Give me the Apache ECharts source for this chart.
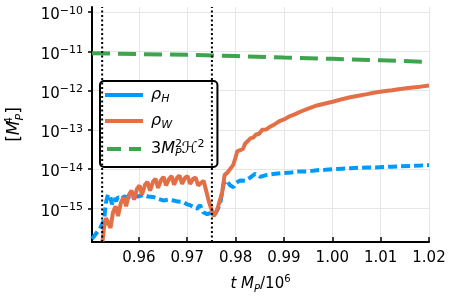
<!DOCTYPE html>
<html>
<head>
<meta charset="utf-8">
<script src="https://cdn.jsdelivr.net/npm/echarts@6/dist/echarts.min.js"></script>
<style>html,body{margin:0;padding:0;background:#fff}#c{width:450px;height:300px}</style>
</head>
<body>
<div id="c"></div>
<script>
// x values in units of t*M_P/1e6 ; y values as log10 of energy density
const xTicks = [0.96, 0.97, 0.98, 0.99, 1.00, 1.01, 1.02];
const yTickExp = [-15, -14, -13, -12, -11, -10];
const vLines = [0.9524, 0.9751];
const yRangeExp = [-15.86, -9.87];

const tH = [0.95030,0.95092,0.95154,0.95196,0.95237,0.95278,0.95320,0.95361,0.95403,0.95444,0.95485,0.95527,0.95568,0.95630,0.95693,0.95775,0.95879,0.95982,0.96086,0.96189,0.96293,0.96396,0.96500,0.96603,0.96707,0.96810,0.96914,0.96997,0.97059,0.97142,0.97204,0.97266,0.97328,0.97411,0.97494,0.97577,0.97639,0.97680,0.97722,0.97753,0.97819,0.97887,0.97955,0.98011,0.98094,0.98198,0.98301,0.98405,0.98508,0.98647,0.98819,0.98991,0.99150,0.99336,0.99502,0.99682,0.99854,1.00026,1.00200,1.00372,1.00537,1.00717,1.00889,1.01061,1.01235,1.01407,1.01614,1.01821,1.02000];
const logH = [-15.78,-15.68,-15.58,-15.52,-15.55,-15.30,-14.85,-14.65,-14.70,-14.90,-14.75,-14.82,-14.72,-14.76,-14.70,-14.72,-14.67,-14.70,-14.66,-14.70,-14.71,-14.76,-14.80,-14.78,-14.80,-14.83,-14.84,-14.90,-14.92,-14.98,-15.01,-14.92,-15.10,-15.15,-15.12,-15.15,-15.00,-14.88,-14.60,-14.37,-14.29,-14.42,-14.46,-14.35,-14.29,-14.30,-14.22,-14.12,-14.20,-14.15,-14.12,-14.10,-14.09,-14.06,-14.06,-14.03,-14.02,-14.00,-13.99,-13.98,-13.97,-13.96,-13.96,-13.95,-13.94,-13.93,-13.92,-13.91,-13.90];

const tW = [0.95247,0.95278,0.95320,0.95361,0.95413,0.95465,0.95517,0.95568,0.95630,0.95682,0.95734,0.95796,0.95848,0.95900,0.95962,0.96013,0.96065,0.96127,0.96179,0.96231,0.96293,0.96345,0.96397,0.96459,0.96510,0.96562,0.96624,0.96676,0.96728,0.96790,0.96842,0.96893,0.96955,0.97007,0.97059,0.97121,0.97173,0.97225,0.97287,0.97338,0.97390,0.97452,0.97494,0.97546,0.97597,0.97639,0.97680,0.97722,0.97773,0.97825,0.97887,0.97949,0.98001,0.98032,0.98094,0.98156,0.98198,0.98260,0.98301,0.98363,0.98425,0.98488,0.98550,0.98632,0.98715,0.98819,0.98922,0.99026,0.99129,0.99233,0.99336,0.99502,0.99682,0.99854,1.00026,1.00200,1.00372,1.00537,1.00717,1.00889,1.01061,1.01235,1.01407,1.01614,1.01821,1.02000];
const logW = [-15.85,-15.50,-15.25,-15.30,-15.50,-15.10,-14.95,-15.20,-14.85,-14.72,-14.95,-14.65,-14.55,-14.78,-14.50,-14.42,-14.65,-14.40,-14.33,-14.55,-14.32,-14.25,-14.48,-14.28,-14.20,-14.42,-14.25,-14.18,-14.40,-14.22,-14.17,-14.38,-14.22,-14.18,-14.38,-14.25,-14.22,-14.42,-14.35,-14.30,-14.55,-14.85,-15.00,-15.20,-15.10,-14.95,-14.95,-14.60,-14.15,-14.10,-14.00,-13.90,-13.70,-13.55,-13.52,-13.48,-13.35,-13.28,-13.22,-13.20,-13.12,-13.10,-13.00,-12.99,-12.92,-12.85,-12.77,-12.72,-12.65,-12.60,-12.54,-12.46,-12.38,-12.33,-12.28,-12.22,-12.17,-12.13,-12.09,-12.05,-12.02,-11.99,-11.96,-11.93,-11.90,-11.87];

const tG = [0.9503, 0.96, 0.97, 0.98, 0.99, 1.00, 1.01, 1.02];
const logG = [-11.05, -11.07, -11.09, -11.12, -11.16, -11.19, -11.23, -11.27];

const FONT = 'DejaVu Sans';
const pair = (ts, ls) => ts.map((t, i) => [t, Math.pow(10, ls[i])]);

const vSeries = vLines.map((v, k) => ({
  name: 'v' + k, type: 'line', symbol: 'none', z: 5, silent: true,
  data: [[v, Math.pow(10, yRangeExp[0])], [v, Math.pow(10, yRangeExp[1])]],
  lineStyle: {color: '#000', width: 2, type: [2, 2.5]}
}));

const chart = echarts.init(document.getElementById('c'), null, {renderer: 'canvas'});
chart.setOption({
  animation: false,
  backgroundColor: '#fff',
  grid: {left: 92, right: 21, top: 7, bottom: 58, containLabel: false, outerBoundsMode: 'none'},
  legend: {
    orient: 'vertical', left: 100, top: 81,
    padding: [6, 13, 8, 5], itemGap: 8, itemWidth: 38, itemHeight: 4,
    borderColor: '#000', borderWidth: 2, borderRadius: 4, backgroundColor: '#fff',
    data: [
      {name: 'rhoH', icon: 'path://M0,0H38V4H0Z'},
      {name: 'rhoW', icon: 'path://M0,0H38V4H0Z'},
      {name: 'H2', icon: 'path://M0,0H14V4H0Z M22,0H34V4H22Z'}
    ],
    formatter: function (n) {
      if (n === 'rhoH') return '{i|ρ}{sub|H}';
      if (n === 'rhoW') return '{i|ρ}{sub|W}';
      return '{r|3}{i|M}{supz|2}{sub|P}{i|ℋ}{sup|2}';
    },
    textStyle: {
      fontFamily: FONT, color: '#000', padding: [0, 0, 0, 3],
      rich: {
        i: {fontFamily: FONT, fontStyle: 'italic', fontSize: 16, lineHeight: 20, verticalAlign: 'middle', color: '#000'},
        r: {fontFamily: FONT, fontSize: 16, lineHeight: 20, verticalAlign: 'middle', color: '#000'},
        sub: {fontFamily: FONT, fontStyle: 'italic', fontSize: 11, lineHeight: 11, verticalAlign: 'bottom', color: '#000'},
        sup: {fontFamily: FONT, fontSize: 11, lineHeight: 11, verticalAlign: 'top', color: '#000'},
        supz: {fontFamily: FONT, fontSize: 11, lineHeight: 11, verticalAlign: 'top', width: 0, color: '#000'}
      }
    }
  },
  xAxis: {
    type: 'value', min: 0.9503, max: 1.02,
    name: '{i|t M}{sub|P}{r|/10}{sup|6}',
    nameLocation: 'middle', nameGap: 32,
    nameTextStyle: {
      fontFamily: FONT, color: '#000',
      rich: {
        i: {fontFamily: FONT, fontStyle: 'italic', fontSize: 15, lineHeight: 20, color: '#000'},
        r: {fontFamily: FONT, fontSize: 15, lineHeight: 20, color: '#000'},
        sub: {fontFamily: FONT, fontStyle: 'italic', fontSize: 10, lineHeight: 10, verticalAlign: 'bottom', color: '#000'},
        sup: {fontFamily: FONT, fontSize: 10, lineHeight: 10, verticalAlign: 'top', color: '#000'}
      }
    },
    axisLine: {show: true, onZero: false, lineStyle: {color: '#000', width: 2}},
    axisTick: {show: true, inside: true, length: 5, customValues: xTicks, lineStyle: {color: '#000', width: 1.5}},
    axisLabel: {customValues: xTicks, margin: 9, fontFamily: FONT, fontSize: 15, color: '#000',
      formatter: v => v.toFixed(2)},
    splitLine: {show: true, lineStyle: {color: '#e6e6e6', width: 1}}
  },
  yAxis: {
    type: 'log', logBase: 10, min: Math.pow(10, yRangeExp[0]), max: Math.pow(10, yRangeExp[1]),
    name: '[{i|M}{supz|4}{sub|P}]',
    nameLocation: 'middle', nameGap: 66, nameRotate: 90,
    nameTextStyle: {
      fontFamily: FONT, fontSize: 17, color: '#000',
      rich: {
        i: {fontFamily: FONT, fontStyle: 'italic', fontSize: 17, lineHeight: 22, color: '#000'},
        sub: {fontFamily: FONT, fontStyle: 'italic', fontSize: 11, lineHeight: 11, verticalAlign: 'bottom', color: '#000'},
        supz: {fontFamily: FONT, fontSize: 11, lineHeight: 11, verticalAlign: 'top', width: 0, color: '#000'}
      }
    },
    axisLine: {show: true, onZero: false, lineStyle: {color: '#000', width: 2}},
    axisTick: {show: true, inside: false, length: 4, customValues: yTickExp.map(e => Math.pow(10, e)), lineStyle: {color: '#000', width: 1.5}},
    axisLabel: {
      customValues: yTickExp.map(e => Math.pow(10, e)), margin: 9, padding: [7, 0, 0, 0],
      formatter: v => '{b|10}{s|−' + Math.abs(Math.round(Math.log10(v))) + '}',
      rich: {
        b: {fontFamily: FONT, fontSize: 15, lineHeight: 20, color: '#000'},
        s: {fontFamily: FONT, fontSize: 11, lineHeight: 11, verticalAlign: 'top', color: '#000'}
      }
    },
    splitLine: {show: true, lineStyle: {color: '#e6e6e6', width: 1}}
  },
  series: [
    {name: 'rhoH', type: 'line', data: pair(tH, logH), symbol: 'none', z: 2,
      lineStyle: {color: '#009AFA', width: 4, type: [9, 4]}, itemStyle: {color: '#009AFA'}},
    {name: 'rhoW', type: 'line', data: pair(tW, logW), symbol: 'none', z: 3,
      lineStyle: {color: '#E36F47', width: 4}, itemStyle: {color: '#E36F47'}},
    {name: 'H2', type: 'line', data: pair(tG, logG), symbol: 'none', z: 4,
      lineStyle: {color: '#3EA44E', width: 4, type: [18, 8]}, itemStyle: {color: '#3EA44E'}}
  ].concat(vSeries)
});
</script>
</body>
</html>
